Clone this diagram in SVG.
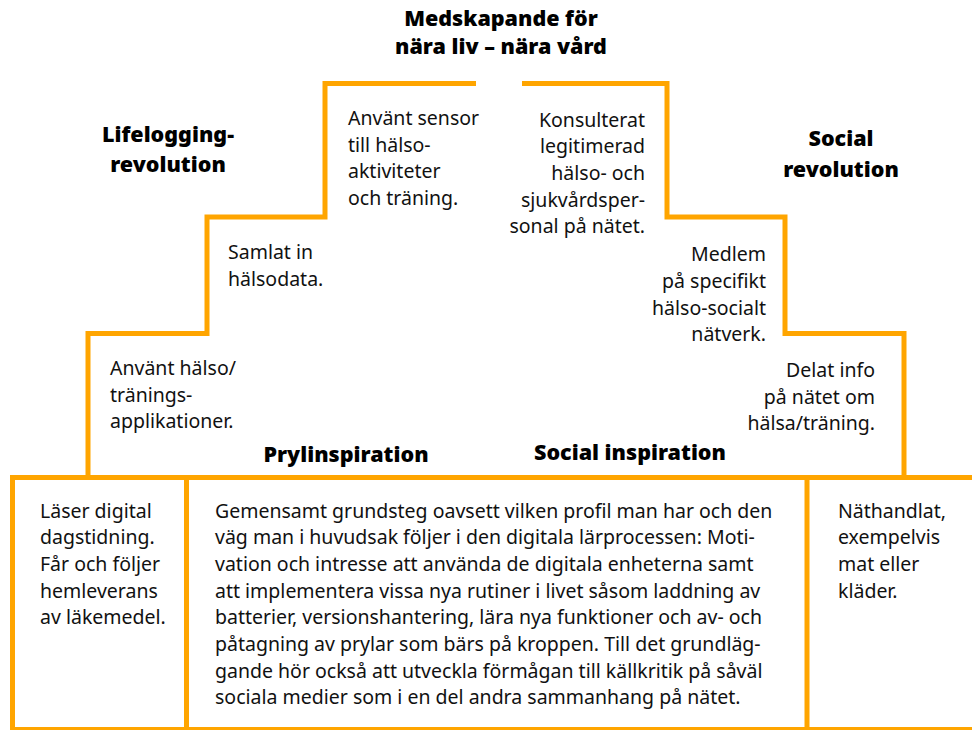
<svg xmlns="http://www.w3.org/2000/svg" width="972" height="730" viewBox="0 0 972 730">
<style>
.ln{fill:none;stroke:#FFA500;stroke-width:5;stroke-linejoin:miter;stroke-linecap:butt}
.t{font-family:"Noto Sans","Open Sans","Liberation Sans",sans-serif;font-size:19.5px;fill:#111}
.h{font-family:"Noto Sans","Open Sans","Liberation Sans",sans-serif;font-size:21.5px;font-weight:900;fill:#000;text-anchor:middle}
.r{text-anchor:end}
</style>
<rect width="972" height="730" fill="#fff"/>
<g id="connectors">
<polyline class="ln" points="88,478 88,333.5 207,333.5 207,217 325,217 325,83.5 476,83.5"/>
<polyline class="ln" points="522,83.5 667,83.5 667,217 785,217 785,333.5 904,333.5 904,478"/>
<line class="ln" x1="10" y1="477.5" x2="972" y2="477.5"/>
<line class="ln" x1="12.5" y1="477.5" x2="12.5" y2="730"/>
<line class="ln" x1="186.5" y1="477.5" x2="186.5" y2="730"/>
<line class="ln" x1="807" y1="477.5" x2="807" y2="730"/>
<line class="ln" x1="10" y1="729.5" x2="972" y2="729.5"/>
</g>
<g id="title">
<text class="h" x="501" y="26">Medskapande för</text>
<text class="h" x="501" y="54">nära liv – nära vård</text>
</g>
<g id="lifelogging">
<text class="h" x="168" y="142">Lifelogging-</text>
<text class="h" x="168" y="172">revolution</text>
</g>
<g id="social-revolution">
<text class="h" x="841" y="146">Social</text>
<text class="h" x="841" y="177">revolution</text>
</g>
<g id="prylinspiration">
<text class="h" x="346" y="462">Prylinspiration</text>
</g>
<g id="social-inspiration">
<text class="h" x="630" y="460">Social inspiration</text>
</g>
<g id="step-sensor">
<text class="t" x="348" y="125">Använt sensor</text>
<text class="t" x="348" y="152">till hälso-</text>
<text class="t" x="348" y="178">aktiviteter</text>
<text class="t" x="348" y="205">och träning.</text>
</g>
<g id="step-halsodata">
<text class="t" x="228" y="259">Samlat in</text>
<text class="t" x="228" y="286">hälsodata.</text>
</g>
<g id="step-appar">
<text class="t" x="110" y="375">Använt hälso/</text>
<text class="t" x="110" y="402">tränings-</text>
<text class="t" x="110" y="428">applikationer.</text>
</g>
<g id="step-konsulterat">
<text class="t r" x="645" y="127">Konsulterat</text>
<text class="t r" x="645" y="153">legitimerad</text>
<text class="t r" x="645" y="180">hälso- och</text>
<text class="t r" x="645" y="207">sjukvårdsper-</text>
<text class="t r" x="645" y="233">sonal på nätet.</text>
</g>
<g id="step-medlem">
<text class="t r" x="766" y="261">Medlem</text>
<text class="t r" x="766" y="288">på specifikt</text>
<text class="t r" x="766" y="315">hälso-socialt</text>
<text class="t r" x="766" y="341">nätverk.</text>
</g>
<g id="step-delat">
<text class="t r" x="875" y="377">Delat info</text>
<text class="t r" x="875" y="404">på nätet om</text>
<text class="t r" x="875" y="430">hälsa/träning.</text>
</g>
<g id="box-left">
<text class="t" x="40" y="518">Läser digital</text>
<text class="t" x="40" y="544">dagstidning.</text>
<text class="t" x="40" y="571">Får och följer</text>
<text class="t" x="40" y="598">hemleverans</text>
<text class="t" x="40" y="624">av läkemedel.</text>
</g>
<g id="box-middle">
<text class="t" x="215" y="518">Gemensamt grundsteg oavsett vilken profil man har och den</text>
<text class="t" x="215" y="544">väg man i huvudsak följer i den digitala lärprocessen: Moti-</text>
<text class="t" x="215" y="571">vation och intresse att använda de digitala enheterna samt</text>
<text class="t" x="215" y="598">att implementera vissa nya rutiner i livet såsom laddning av</text>
<text class="t" x="215" y="624">batterier, versionshantering, lära nya funktioner och av- och</text>
<text class="t" x="215" y="651">påtagning av prylar som bärs på kroppen. Till det grundläg-</text>
<text class="t" x="215" y="678">gande hör också att utveckla förmågan till källkritik på såväl</text>
<text class="t" x="215" y="704">sociala medier som i en del andra sammanhang på nätet.</text>
</g>
<g id="box-right">
<text class="t" x="838" y="518">Näthandlat,</text>
<text class="t" x="838" y="544">exempelvis</text>
<text class="t" x="838" y="571">mat eller</text>
<text class="t" x="838" y="598">kläder.</text>
</g>
</svg>
